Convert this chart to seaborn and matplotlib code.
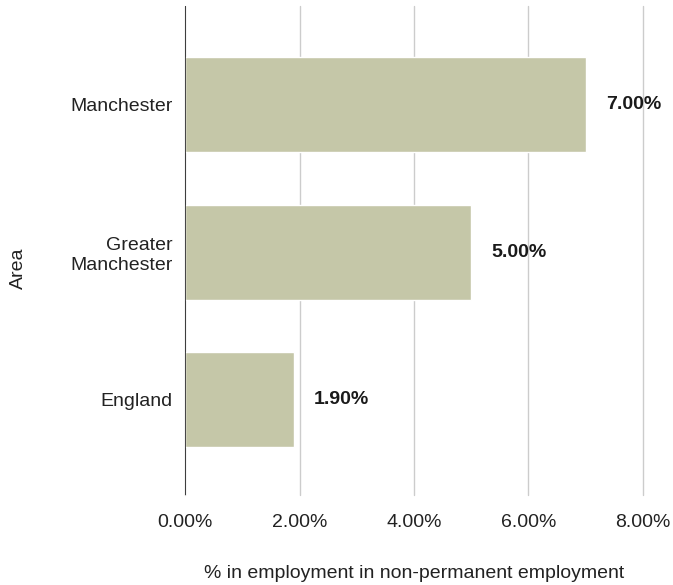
import matplotlib
matplotlib.use("Agg")
import matplotlib.pyplot as plt
import seaborn as sns
import pandas as pd
from matplotlib.ticker import FuncFormatter

areas = ["Manchester", "Greater\nManchester", "England"]
values = [7.00, 5.00, 1.90]
x_ticks = [0, 2, 4, 6, 8]

sns.set_theme(style="white")
plt.rcParams["font.family"] = ["Liberation Sans", "DejaVu Sans"]

df = pd.DataFrame({"Area": areas, "Share": values})

fig = plt.figure(figsize=(6.73, 5.85), dpi=100)
ax = fig.add_axes([0.2749, 0.1538, 0.6805, 0.8359])

sns.barplot(data=df, y="Area", x="Share", orient="h", color="#c5c7a8",
            width=0.645, saturation=1, ax=ax, zorder=2)

ax.set_xlim(0, 8)
ax.set_ylim(2.647, -0.668)
ax.set_xticks(x_ticks)
ax.xaxis.set_major_formatter(FuncFormatter(lambda v, p: f"{v:.2f}%"))
ax.grid(axis="x", color="#cccccc", linewidth=1.0, zorder=0)
for gl in ax.get_xgridlines():
    gl.set_clip_on(False)
ax.axvline(0, color="#222222", linewidth=1.2, zorder=3)
for s in ax.spines.values():
    s.set_visible(False)
ax.tick_params(axis="both", length=0, labelsize=14, colors="#222222")
ax.tick_params(axis="x", pad=14)
ax.tick_params(axis="y", pad=9)

for i, v in enumerate(values):
    ax.annotate(f"{v:.2f}%", xy=(v, i), xytext=(20, 0), textcoords="offset pixels",
                ha="left", va="center", fontsize=14, fontweight="bold", color="#1a1a1a")

ax.set_xlabel("% in employment in non-permanent employment", fontsize=14,
              color="#222222", labelpad=24)
ax.set_ylabel("Area", fontsize=14, color="#222222")
ax.yaxis.set_label_coords(-0.345, 0.464)

fig.savefig("out.png", dpi=100)
